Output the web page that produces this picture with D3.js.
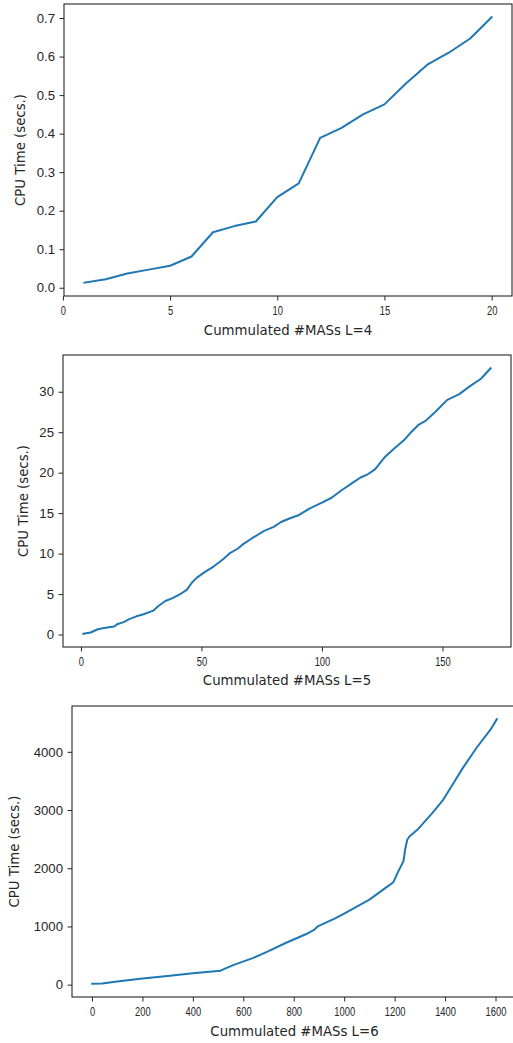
<!DOCTYPE html>
<html>
<head>
<meta charset="utf-8">
<script src="https://cdn.jsdelivr.net/npm/d3@7"></script>
<style>
  html, body { margin: 0; padding: 0; background: #fff; }
  svg { display: block; font-family: "DejaVu Sans", sans-serif; }
</style>
</head>
<body>
<svg id="chart" width="513" height="1043"></svg>
<script>
// ---- data ----
const l4X = [1,2,3,4,5,6,7,8,9,10,11,12,13,14,15,16,17,18,19,20];
const l4Y = [0.013,0.022,0.037,0.047,0.057,0.081,0.144,0.160,0.172,0.235,0.271,0.389,0.415,0.450,0.476,0.530,0.579,0.610,0.647,0.702];

const l5X = [1,4,7,9,13,14,15,18,20,23,26,30,32,35,38,41,44,46,48,51,55,59,62,65,67,71,76,80,83,87,90,95,100,104,108,113,116,119,122,126,130,134,137,140,143,147,152,157,161,166,170];
const l5Y = [0.1,0.25,0.65,0.78,0.95,1.03,1.28,1.57,1.9,2.25,2.5,2.95,3.5,4.15,4.5,4.95,5.55,6.4,7.0,7.65,8.4,9.3,10.1,10.6,11.1,11.9,12.8,13.3,13.9,14.4,14.7,15.6,16.3,16.9,17.8,18.8,19.4,19.8,20.4,21.9,23.0,24.0,25.0,25.9,26.4,27.5,29.0,29.7,30.6,31.6,32.9];

const l6X = [1,40,100,200,300,400,510,525,560,640,700,770,850,880,895,960,1000,1100,1160,1195,1215,1235,1242,1250,1258,1290,1350,1390,1430,1470,1525,1580,1605];
const l6Y = [15,20,55,105,150,195,240,270,335,460,575,720,870,940,1000,1130,1220,1460,1650,1760,1950,2120,2330,2490,2540,2660,2950,3160,3440,3720,4070,4380,4560];

const l4XTicks = [0,5,10,15,20];
const l4YTicks = [0,0.1,0.2,0.3,0.4,0.5,0.6,0.7];
const l5XTicks = [0,50,100,150];
const l5YTicks = [0,5,10,15,20,25,30];
const l6XTicks = [0,200,400,600,800,1000,1200,1400,1600];
const l6YTicks = [0,1000,2000,3000,4000];

const xLabels = ["Cummulated #MASs L=4","Cummulated #MASs L=5","Cummulated #MASs L=6"];
const yLabel = "CPU Time (secs.)";

// ---- layout ----
const panels = [
  {xs:l4X, ys:l4Y, xt:l4XTicks, yt:l4YTicks, yfmt:d3.format(".1f"), xlab:xLabels[0],
   left:64, right:512, top:4, bottom:296, ylabX:20, xlabY:335},
  {xs:l5X, ys:l5Y, xt:l5XTicks, yt:l5YTicks, yfmt:d3.format("d"), xlab:xLabels[1],
   left:63, right:511, top:355, bottom:647, ylabX:23, xlabY:685},
  {xs:l6X, ys:l6Y, xt:l6XTicks, yt:l6YTicks, yfmt:d3.format("d"), xlab:xLabels[2],
   left:72, right:517, top:706, bottom:997, ylabX:14, xlabY:1036}
];

const svg = d3.select("#chart");
const ink = "#262626";

function padded(ext) {
  const m = (ext[1] - ext[0]) * 0.05;
  return [ext[0] - m, ext[1] + m];
}

panels.forEach(p => {
  const x = d3.scaleLinear().domain(padded(d3.extent(p.xs))).range([p.left, p.right]);
  const y = d3.scaleLinear().domain(padded(d3.extent(p.ys))).range([p.bottom, p.top]);
  const pts = p.xs.map((v, i) => [v, p.ys[i]]);

  const g = svg.append("g");

  // line
  g.append("path")
    .datum(pts)
    .attr("fill", "none")
    .attr("stroke", "#1f77b4")
    .attr("stroke-width", 2)
    .attr("stroke-linejoin", "round")
    .attr("stroke-linecap", "square")
    .attr("d", d3.line().x(d => x(d[0])).y(d => y(d[1])));

  // frame
  g.append("rect")
    .attr("x", p.left).attr("y", p.top)
    .attr("width", p.right - p.left).attr("height", p.bottom - p.top)
    .attr("fill", "none").attr("stroke", ink).attr("stroke-width", 1.1);

  // x axis
  const xa = g.append("g")
    .attr("transform", `translate(0,${p.bottom})`)
    .call(d3.axisBottom(x).tickValues(p.xt).tickSize(4.5).tickPadding(5.5).tickFormat(d3.format("d")));
  xa.select(".domain").remove();
  xa.selectAll("line").attr("stroke", ink);
  xa.selectAll("text").attr("fill", ink).attr("font-size", 13)
    .attr("transform", "scale(0.72,1)");

  // y axis
  const ya = g.append("g")
    .attr("transform", `translate(${p.left},0)`)
    .call(d3.axisLeft(y).tickValues(p.yt).tickSize(4.5).tickPadding(4.5).tickFormat(p.yfmt));
  ya.select(".domain").remove();
  ya.selectAll("line").attr("stroke", ink);
  ya.selectAll("text").attr("fill", ink).attr("font-size", 13.2);

  // labels
  g.append("text")
    .attr("x", (p.left + Math.min(p.right, 517)) / 2)
    .attr("y", p.xlabY)
    .attr("text-anchor", "middle")
    .attr("font-size", 13.3)
    .attr("fill", ink)
    .text(p.xlab);

  g.append("text")
    .attr("transform", `translate(${p.ylabX + 4.5},${(p.top + p.bottom) / 2}) rotate(-90)`)
    .attr("text-anchor", "middle")
    .attr("font-size", 13.3)
    .attr("fill", ink)
    .text(yLabel);
});
</script>
</body>
</html>
